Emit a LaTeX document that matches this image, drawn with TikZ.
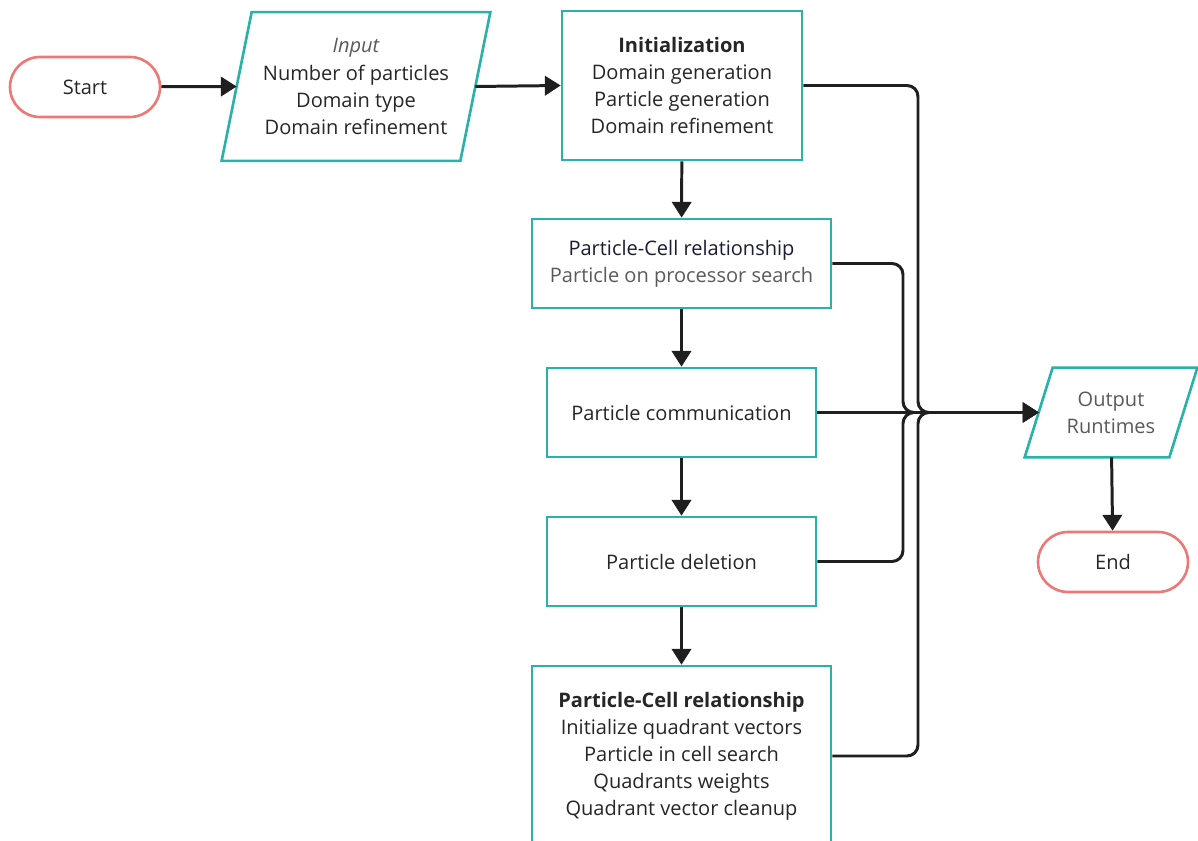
\documentclass[tikz,border=0pt]{standalone}
\usepackage{fontspec}
\setmainfont{Open Sans}
\usetikzlibrary{arrows.meta}
\definecolor{boxline}{RGB}{42,178,168}
\definecolor{termline}{RGB}{238,120,120}
\definecolor{txt}{RGB}{38,38,38}
\definecolor{txtsoft}{RGB}{90,90,90}
\definecolor{txtnavy}{RGB}{28,28,52}

\begin{document}
\begin{tikzpicture}[x=0.02cm,y=-0.02cm,
  every node/.style={font=\fontsize{11.4}{15.4}\selectfont, text=txt, align=center},
  proc/.style={draw=boxline, line width=1.5pt, fill=white, inner sep=0pt},
  term/.style={draw=termline, line width=1.5pt, rounded corners=0.6cm,
    minimum width=3cm, minimum height=1.2cm, inner sep=0pt},
  io/.style={inner sep=0pt},
  ioline/.style={draw=boxline, line width=1.5pt},
  flow/.style={line width=1.7pt, draw=black!88, -{Triangle[length=9pt,width=11pt]}},
  merge/.style={flow, rounded corners=0.22cm}]

\useasboundingbox (0,0) rectangle (1198,841);

% terminals
\node[term] (start) at (85,87) {Start};
\node[term] (end) at (1113,562) {End};

% input parallelogram
\node[io, minimum width=238*0.02cm, minimum height=148*0.02cm] (in) at (356,86.5)
  {\textcolor{txtsoft}{\itshape Input}\\Number of particles\\Domain type\\Domain refinement};
\draw[ioline] ([xshift=0.3cm]in.north west) -- ([xshift=0.3cm]in.north east)
  -- ([xshift=-0.3cm]in.south east) -- ([xshift=-0.3cm]in.south west) -- cycle;

% process boxes
\node[proc, minimum width=240*0.02cm, minimum height=149*0.02cm] (init) at (682,85.5)
  {\textbf{Initialization}\\Domain generation\\Particle generation\\Domain refinement};
\node[proc, minimum width=299*0.02cm, minimum height=89*0.02cm] (pc1) at (681.5,263.5)
  {\textcolor{txtnavy}{Particle-Cell relationship}\\\textcolor{txtsoft}{Particle on processor search}};
\node[proc, minimum width=269*0.02cm, minimum height=89*0.02cm] (comm) at (681.5,412.5)
  {Particle communication};
\node[proc, minimum width=269*0.02cm, minimum height=89*0.02cm] (del) at (681.5,561.5)
  {Particle deletion};
\node[proc, minimum width=299*0.02cm, minimum height=180*0.02cm] (pc2) at (681.5,756)
  {\textbf{Particle-Cell relationship}\\Initialize quadrant vectors\\Particle in cell search\\Quadrants weights\\Quadrant vector cleanup};

% output parallelogram
\node[io, minimum width=144*0.02cm, minimum height=89*0.02cm] (out) at (1111,412.5)
  {\textcolor{txtsoft}{Output}\\\textcolor{txtsoft}{Runtimes}};
\draw[ioline] ([xshift=0.28cm]out.north west) -- ([xshift=0.28cm]out.north east)
  -- ([xshift=-0.28cm]out.south east) -- ([xshift=-0.28cm]out.south west) -- cycle;

% junction columns
\coordinate (jA) at (918,412.5);
\coordinate (jB) at (903,412.5);

% main sequence
\draw[flow] (start) -- (in.west);
\draw[flow] (in.east) -- (init.west);
\draw[flow] (init) -- (pc1);
\draw[flow] (pc1) -- (comm);
\draw[flow] (comm) -- (del);
\draw[flow] (del) -- (pc2);
\draw[flow] (out) -- (end);

% timings gathered into the output
\draw[flow] (comm.east) -- (out.west);
\draw[merge] (init.east) -| (jA) -- (out.west);
\draw[merge] (pc2.east) -| (jA) -- (out.west);
\draw[merge] (pc1.east) -| (jB) -- (out.west);
\draw[merge] (del.east) -| (jB) -- (out.west);
\end{tikzpicture}
\end{document}
